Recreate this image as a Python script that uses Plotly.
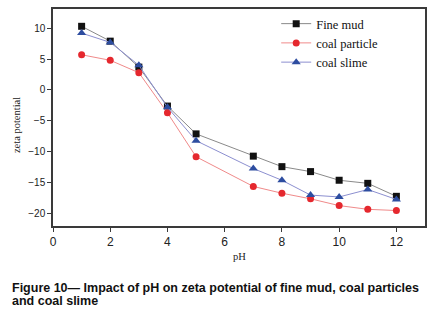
import plotly.graph_objects as go

ph = [1, 2, 3, 4, 5, 7, 8, 9, 10, 11, 12]
fine_mud = [10.3, 7.9, 3.7, -2.6, -7.1, -10.7, -12.4, -13.2, -14.6, -15.1, -17.2]
coal_particle = [5.7, 4.8, 2.8, -3.7, -10.8, -15.6, -16.7, -17.6, -18.7, -19.3, -19.5]
coal_slime = [9.2, 7.7, 4.0, -2.8, -8.2, -12.7, -14.6, -17.0, -17.3, -16.1, -17.7]

x_ticks = [0, 2, 4, 6, 8, 10, 12]
y_ticks = [-20, -15, -10, -5, 0, 5, 10]

series = [
    ("Fine mud", fine_mud, "#8a8a8a", "#111111", "square", 7),
    ("coal particle", coal_particle, "#f08a8a", "#e5282e", "circle", 7),
    ("coal slime", coal_slime, "#8c8fd0", "#2d4da0", "triangle-up", 8),
]

fig = go.Figure()
for name, vals, lc, mc, sym, sz in series:
    fig.add_trace(go.Scatter(
        x=ph, y=vals, name=name, mode="lines+markers",
        line=dict(color=lc, width=1),
        marker=dict(color=mc, symbol=sym, size=sz),
    ))

axis_common = dict(
    showline=True, linecolor="#3a3a3a", linewidth=1.5, mirror=True,
    ticks="outside", ticklen=4, tickwidth=1.2, tickcolor="#3a3a3a",
    showgrid=False, zeroline=False,
)

fig.update_layout(
    width=434, height=325,
    margin=dict(l=53, r=8, t=7, b=99),
    paper_bgcolor="white", plot_bgcolor="white",
    font=dict(family="Liberation Sans", color="#222222"),
    xaxis=dict(range=[0, 13], tickvals=x_ticks,
               tickfont=dict(size=12, family="Liberation Sans", color="#222"),
               **axis_common),
    yaxis=dict(range=[-22, 13.1], tickvals=y_ticks,
               tickfont=dict(size=10, family="Liberation Sans", color="#222"),
               **axis_common),
    legend=dict(x=0.60, y=1.0, xanchor="left", yanchor="top",
                bgcolor="rgba(0,0,0,0)",
                font=dict(family="Liberation Serif", size=12.5, color="#111"),
                itemwidth=30, tracegroupgap=0),
    showlegend=True,
)

fig.add_annotation(text="zeta potential", xref="paper", yref="paper",
                   x=0, y=0.465, xanchor="center", yanchor="middle", xshift=-37,
                   textangle=-90, showarrow=False,
                   font=dict(family="Liberation Serif", size=10.5, color="#222"))
fig.add_annotation(text="pH", xref="paper", yref="paper",
                   x=0.5, y=0, xanchor="center", yanchor="middle", yshift=-30,
                   showarrow=False,
                   font=dict(family="Liberation Serif", size=10.5, color="#222"))
fig.add_annotation(text="<b>Figure 10\u2014 Impact of pH on zeta potential of fine mud, coal particles</b>",
                   xref="paper", yref="paper", x=0, y=0, xanchor="left", yanchor="middle",
                   xshift=-43, yshift=-62, showarrow=False,
                   font=dict(family="Liberation Sans", size=12.5, color="#111"))
fig.add_annotation(text="<b>and coal slime</b>",
                   xref="paper", yref="paper", x=0, y=0, xanchor="left", yanchor="middle",
                   xshift=-43, yshift=-75, showarrow=False,
                   font=dict(family="Liberation Sans", size=12.5, color="#111"))

fig.write_html("out.html", config={"displayModeBar": False},
               post_script="document.body.style.margin='0';document.body.style.overflow='hidden';")
